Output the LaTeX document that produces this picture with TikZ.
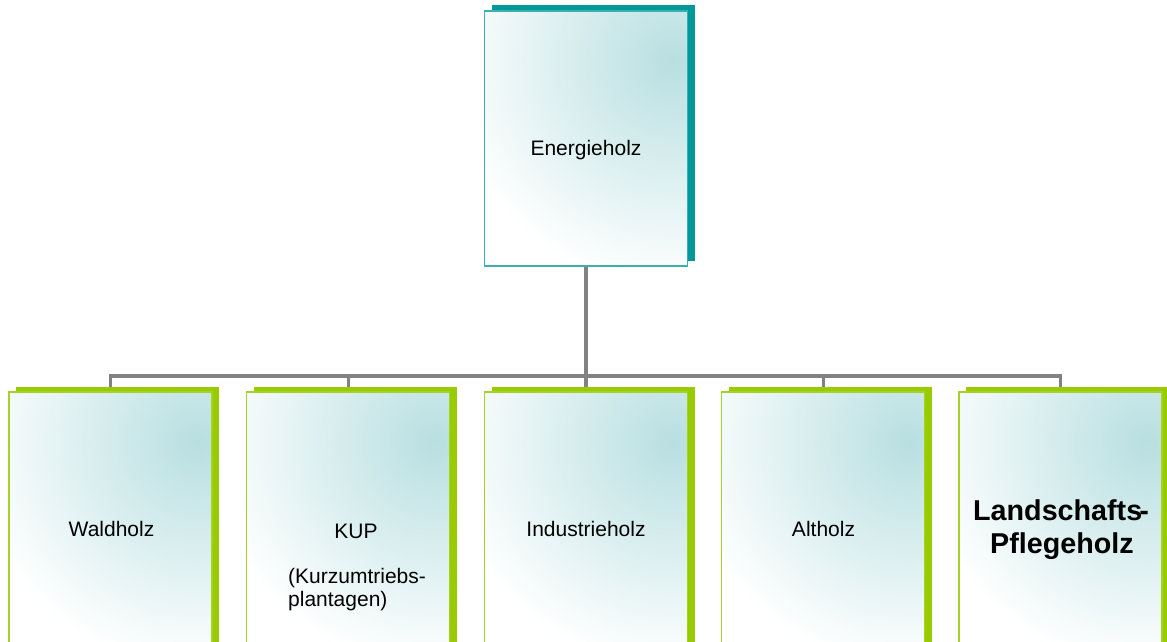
\documentclass[tikz,border=0pt]{standalone}
\usepackage{fontspec}
\setmainfont{Liberation Sans}
\usetikzlibrary{shadows,backgrounds}
\definecolor{tealshadow}{RGB}{0,153,153}
\definecolor{tealline}{RGB}{60,176,176}
\definecolor{greenshadow}{RGB}{153,204,0}
\definecolor{greenline}{RGB}{166,210,40}
\definecolor{boxtint}{RGB}{184,223,225}
\definecolor{connector}{RGB}{130,130,130}
\tikzset{
  card/.style={rectangle, inner sep=0pt, minimum width=203pt, line width=1.3pt, fill=white,
    path picture={\shade[inner color=boxtint, outer color=white]
      ([xshift=-15pt,yshift=-50pt]path picture bounding box.north east) circle (225pt);}},
  headcard/.style={card, draw=tealline, minimum height=255pt,
    general shadow={fill=tealshadow, shadow xshift=7pt, shadow yshift=5.5pt}},
  leafcard/.style={card, draw=greenline, minimum height=272pt,
    general shadow={fill=greenshadow, shadow xshift=7pt, shadow yshift=5pt}},
  cardtext/.style={inner sep=0pt, anchor=base, font=\fontsize{21}{24}\selectfont},
  notetext/.style={inner sep=0pt, anchor=base west, font=\fontsize{21}{24}\selectfont},
  boldtext/.style={inner sep=0pt, anchor=base west, font=\fontsize{28.7}{33}\selectfont\bfseries},
  link/.style={draw=connector, line width=3.5pt}
}
\begin{document}
\begin{tikzpicture}[x=1pt,y=-1pt]
\useasboundingbox (0,0) rectangle (1167,642);
\clip (0,0) rectangle (1167,642);

% cards
\node[headcard] (root) at (586,138.5) {};
\node[leafcard] (wald) at (110.5,528) {};
\node[leafcard] (kup)  at (348.3,528) {};
\node[leafcard] (ind)  at (586,528) {};
\node[leafcard] (alt)  at (823.3,528) {};
\node[leafcard] (lpf)  at (1060.5,528) {};

% card texts
\node[cardtext] (troot) at (586,155) {Energieholz};
\node[cardtext] (twald) at (111.5,536) {Waldholz};
\node[cardtext] (tkup)  at (356,538) {KUP};
\node[notetext] (tkup1) at (288,583) {(Kurzumtriebs-};
\node[notetext] (tkup2) at (288,606) {plantagen)};
\node[cardtext] (tind)  at (586,536) {Industrieholz};
\node[cardtext] (talt)  at (823.5,536) {Altholz};
\node[boldtext] (tlpf1) at (973,520) {Landschafts\kern-3pt-};
\node[boldtext] (tlpf2) at (990,553) {Pflegeholz};

% connectors
\begin{scope}[on background layer]
  \coordinate (bus) at (586,376);
  \draw[link] (root.south) -- (root.south |- bus);
  \draw[link, line join=miter] (wald.north) -- (wald.north |- bus)
    -- (lpf.north |- bus) -- (lpf.north);
  \foreach \n in {kup,ind,alt}
    \draw[link] (\n.north |- bus) -- (\n.north);
\end{scope}
\end{tikzpicture}
\end{document}
